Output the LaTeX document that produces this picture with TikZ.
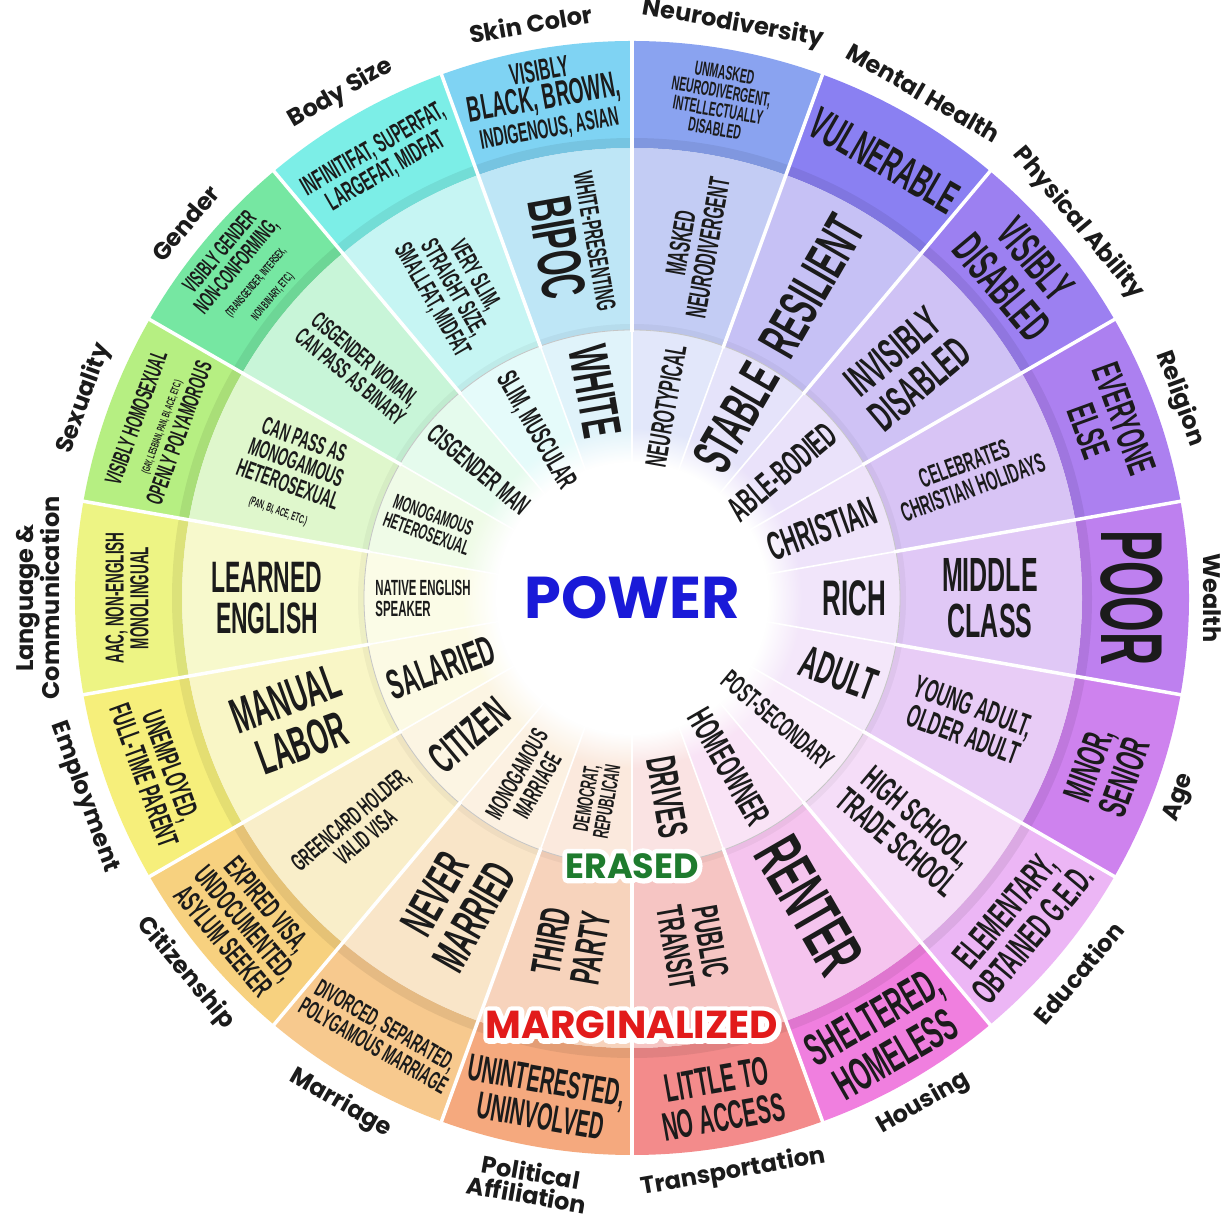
\documentclass[tikz,border=0pt]{standalone}
\usepackage{fontspec}
\newfontfamily\cf{Liberation Sans}[FakeStretch=0.52]
\newfontfamily\pf{Poppins}
\usetikzlibrary{fadings}
\newcommand\F[1]{\fontsize{#1}{\fpeval{0.95*#1}}\selectfont}
\newcommand\C[1]{\cf\bfseries\F{#1}}
% white outline under a coloured word (stroke drawn first, fill on top)
\newcommand\halo[3]{\rlap{\special{pdf:literal direct 2 Tr 1 1 1 RG 1 j #3 w}\textcolor{white}{#2}\special{pdf:literal direct 0 Tr}}\textcolor{#1}{#2}}
\definecolor{txt}{HTML}{1B1B1B}
\definecolor{powerblue}{HTML}{1A1AD8}
\definecolor{erasedgreen}{HTML}{1E7B2E}
\definecolor{margred}{HTML}{E21B1B}
% outer / middle / inner colours
\definecolor{oskin}{HTML}{7FD3F3}\definecolor{mskin}{HTML}{BEE6F6}\definecolor{iskin}{HTML}{E0F3FA}
\definecolor{oneuro}{HTML}{8AA3F0}\definecolor{mneuro}{HTML}{C3CCF4}\definecolor{ineuro}{HTML}{E2E7FA}
\definecolor{omh}{HTML}{8A80F2}\definecolor{mmh}{HTML}{C6C1F5}\definecolor{imh}{HTML}{E5E3FA}
\definecolor{opa}{HTML}{9C80F1}\definecolor{mpa}{HTML}{CFC2F5}\definecolor{ipa}{HTML}{EAE2FA}
\definecolor{orel}{HTML}{AC80F0}\definecolor{mrel}{HTML}{D8C4F5}\definecolor{irel}{HTML}{EEE3FA}
\definecolor{owealth}{HTML}{BE80EF}\definecolor{mwealth}{HTML}{E0C8F6}\definecolor{iwealth}{HTML}{F1E5FA}
\definecolor{oage}{HTML}{CE82EE}\definecolor{mage}{HTML}{E8CCF6}\definecolor{iage}{HTML}{F4E7FA}
\definecolor{oedu}{HTML}{ECB6F5}\definecolor{medu}{HTML}{F5DDF8}\definecolor{iedu}{HTML}{F9ECFA}
\definecolor{ohous}{HTML}{F07FDF}\definecolor{mhous}{HTML}{F5C4EE}\definecolor{ihous}{HTML}{F9E3F6}
\definecolor{otrans}{HTML}{F38B8B}\definecolor{mtrans}{HTML}{F6C5C3}\definecolor{itrans}{HTML}{FAE3E3}
\definecolor{opol}{HTML}{F5A97E}\definecolor{mpol}{HTML}{F7D3BC}\definecolor{ipol}{HTML}{FBE9DD}
\definecolor{omar}{HTML}{F7C98E}\definecolor{mmar}{HTML}{F9E5C8}\definecolor{imar}{HTML}{FCF1E2}
\definecolor{ocit}{HTML}{F7D17F}\definecolor{mcit}{HTML}{F9EEC9}\definecolor{icit}{HTML}{FCF5E3}
\definecolor{oemp}{HTML}{F6EF7B}\definecolor{memp}{HTML}{F9F6C6}\definecolor{iemp}{HTML}{FCFAE4}
\definecolor{olang}{HTML}{EDF484}\definecolor{mlang}{HTML}{F7F9CC}\definecolor{ilang}{HTML}{FBFCE7}
\definecolor{osex}{HTML}{B6EF82}\definecolor{msex}{HTML}{DFF7CC}\definecolor{isex}{HTML}{EFFBE7}
\definecolor{ogen}{HTML}{76E7A2}\definecolor{mgen}{HTML}{C8F5D8}\definecolor{igen}{HTML}{E5FBED}
\definecolor{obody}{HTML}{7CEEE7}\definecolor{mbody}{HTML}{C6F5F3}\definecolor{ibody}{HTML}{E5FBFA}
\tikzset{
  tx/.style={text=txt, inner sep=0pt, align=center},
  lb/.style={text=txt, inner sep=0pt, align=center, font=\pf\bfseries\F{24}},
  pw/.style={inner sep=0pt, font=\pf\bfseries\F{59}},
  ers/.style={inner sep=0pt, font=\pf\bfseries\F{35}},
  mrg/.style={inner sep=0pt, font=\pf\bfseries\F{39}},
}
\begin{document}
\begin{tikzpicture}[x=1pt,y=1pt]
\useasboundingbox (0,0) rectangle (1223,1218);
\fill[white] (0,0) rectangle (1223,1218);
\begin{scope}[shift={(632,620)}]
% wedges
\foreach \t/\c in {100/skin,80/neuro,60/mh,40/pa,20/rel,0/wealth,-20/age,-40/edu,-60/hous,-80/trans,-100/pol,-120/mar,-140/cit,-160/emp,180/lang,160/sex,140/gen,120/body}{
  \fill[fill=o\c] (\t-10:450pt) arc[start angle=\t-10,end angle=\t+10,radius=450pt] -- (\t+10:557pt) arc[start angle=\t+10,end angle=\t-10,radius=557pt] -- cycle;
  \fill[fill=m\c] (\t-10:268pt) arc[start angle=\t-10,end angle=\t+10,radius=268pt] -- (\t+10:450pt) arc[start angle=\t+10,end angle=\t-10,radius=450pt] -- cycle;
  \fill[fill=i\c] (0,0) -- (\t-10:268pt) arc[start angle=\t-10,end angle=\t+10,radius=268pt] -- cycle;
}
% shading bands
\draw[black, opacity=0.07, line width=10pt] (0,0) circle (455pt);
\draw[black, opacity=0.04, line width=6pt] (0,0) circle (271pt);
\draw[gray!45, line width=0.8pt] (0,0) circle (268pt);
\fill[white, path fading=circle with fuzzy edge 20 percent] (0,0) circle (170pt);
% separators
\foreach \a in {10,30,...,350}{
  \draw[white, line width=3.5pt] (\a:266pt) -- (\a:560pt);
  \draw[white, line width=1.6pt] (0,0) -- (\a:268pt);
}
% outer ring
\node[tx,font=\C{30},rotate=10] (o1) at (100:505pt) {VISIBLY\\{\F{36}BLACK, BROWN,}\\{\F{27}INDIGENOUS, ASIAN}};
\node[tx,font=\C{20},rotate=-10] (o2) at (80:505pt) {UNMASKED\\NEURODIVERGENT,\\INTELLECTUALLY\\DISABLED};
\node[tx,font=\C{46},rotate=-30] (o3) at (60:505pt) {VULNERABLE};
\node[tx,font=\C{46},rotate=-50] (o4) at (40:505pt) {VISIBLY\\DISABLED};
\node[tx,font=\C{40},rotate=-70] (o5) at (20:505pt) {EVERYONE\\ELSE};
\node[tx,font=\C{88},rotate=-90] (o6) at (0:500pt) {POOR};
\node[tx,font=\C{40},rotate=70] (o7) at (-20:505pt) {MINOR,\\SENIOR};
\node[tx,font=\C{38},rotate=50] (o8) at (-40:505pt) {ELEMENTARY,\\OBTAINED G.E.D.};
\node[tx,font=\C{46},rotate=30] (o9) at (-60:505pt) {SHELTERED,\\HOMELESS};
\node[tx,font=\C{40},rotate=10] (o10) at (-80:508pt) {LITTLE TO\\NO ACCESS};
\node[tx,font=\C{38},rotate=-10] (o11) at (-100:508pt) {UNINTERESTED,\\UNINVOLVED};
\node[tx,font=\C{25},rotate=-30] (o12) at (-120:505pt) {DIVORCED, SEPARATED,\\POLYGAMOUS MARRIAGE};
\node[tx,font=\C{30},rotate=-50] (o13) at (-140:505pt) {EXPIRED VISA,\\UNDOCUMENTED,\\ASYLUM SEEKER};
\node[tx,font=\C{30},rotate=-70] (o14) at (-160:505pt) {UNEMPLOYED,\\FULL-TIME PARENT};
\node[tx,font=\C{26},rotate=90] (o15) at (180:505pt) {AAC, NON-ENGLISH\\MONOLINGUAL};
\node[tx,font=\C{24},rotate=70] (o16) at (160:505pt) {VISIBLY HOMOSEXUAL\\{\F{11}(GAY, LESBIAN, PAN, BI, ACE, ETC.)}\\OPENLY POLYAMOROUS};
\node[tx,font=\C{23},rotate=50] (o17) at (140:505pt) {VISIBLY GENDER\\NON-CONFORMING,\\{\F{12}(TRANSGENDER, INTERSEX,}\\{\F{12}NON BINARY, ETC.)}};
\node[tx,font=\C{27},rotate=30] (o18) at (120:505pt) {INFINITIFAT, SUPERFAT,\\LARGEFAT, MIDFAT};
% middle ring
\node[tx,font=\C{27},rotate=-80] (m1) at (100:358pt) {WHITE-PRESENTING\\[6pt]{\F{62}BIPOC}};
\node[tx,font=\C{29},rotate=80] (m2) at (80:358pt) {MASKED\\NEURODIVERGENT};
\node[tx,font=\C{56},rotate=60] (m3) at (60:360pt) {RESILIENT};
\node[tx,font=\C{44},rotate=40] (m4) at (40:358pt) {INVISIBLY\\DISABLED};
\node[tx,font=\C{27},rotate=20] (m5) at (20:358pt) {CELEBRATES\\CHRISTIAN HOLIDAYS};
\node[tx,font=\C{48}] (m6) at (0:358pt) {MIDDLE\\CLASS};
\node[tx,font=\C{32},rotate=-20] (m7) at (-20:358pt) {YOUNG ADULT,\\OLDER ADULT};
\node[tx,font=\C{35},rotate=-40] (m8) at (-40:360pt) {HIGH SCHOOL,\\TRADE SCHOOL};
\node[tx,font=\C{68},rotate=-60] (m9) at (-60:355pt) {RENTER};
\node[tx,font=\C{37},rotate=-80] (m10) at (-80:352pt) {PUBLIC\\TRANSIT};
\node[tx,font=\C{42},rotate=80] (m11) at (-100:352pt) {THIRD\\PARTY};
\node[tx,font=\C{48},rotate=60] (m12) at (-120:355pt) {NEVER\\MARRIED};
\node[tx,font=\C{25},rotate=40] (m13) at (-140:358pt) {GREENCARD HOLDER,\\VALID VISA};
\node[tx,font=\C{50},rotate=20] (m14) at (-160:360pt) {MANUAL\\LABOR};
\node[tx,font=\C{44}] (m15) at (180:365pt) {LEARNED\\ENGLISH};
\node[tx,font=\C{25},rotate=-20] (m16) at (160:362pt) {CAN PASS AS\\MONOGAMOUS\\HETEROSEXUAL\\{\F{12}(PAN, BI, ACE, ETC.)}};
\node[tx,font=\C{24},rotate=-40] (m17) at (140:358pt) {CISGENDER WOMAN,\\CAN PASS AS BINARY};
\node[tx,font=\C{26},rotate=-60] (m18) at (120:358pt) {VERY SLIM,\\STRAIGHT SIZE,\\SMALLFAT, MIDFAT};
% inner ring
\node[tx,font=\C{55},rotate=-80] (n1) at (100:210pt) {WHITE};
\node[tx,font=\C{30},rotate=80] (n2) at (80:195pt) {NEUROTYPICAL};
\node[tx,font=\C{56},rotate=60] (n3) at (60:208pt) {STABLE};
\node[tx,font=\C{36},rotate=40] (n4) at (40:196pt) {ABLE-BODIED};
\node[tx,font=\C{40},rotate=20] (n5) at (20:202pt) {CHRISTIAN};
\node[tx,font=\C{50}] (n6) at (0:222pt) {RICH};
\node[tx,font=\C{46},rotate=-20] (n7) at (-20:220pt) {ADULT};
\node[tx,font=\C{28},rotate=-40] (n8) at (-40:190pt) {POST-SECONDARY};
\node[tx,font=\C{36},rotate=-60] (n9) at (-60:195pt) {HOMEOWNER};
\node[tx,font=\C{42},rotate=-80] (n10) at (-80:202pt) {DRIVES};
\node[tx,font=\C{22},rotate=80] (n11) at (-100:205pt) {DEMOCRAT,\\REPUBLICAN};
\node[tx,font=\C{25},rotate=60] (n12) at (-120:210pt) {MONOGAMOUS\\MARRIAGE};
\node[tx,font=\C{44},rotate=40] (n13) at (-140:213pt) {CITIZEN};
\node[tx,font=\C{42},rotate=20] (n14) at (-160:203pt) {SALARIED};
\node[tx,font=\C{22},align=left] (n15) at (180:209pt) {NATIVE ENGLISH\\SPEAKER};
\node[tx,font=\C{21},rotate=-20] (n16) at (160:215pt) {MONOGAMOUS\\HETEROSEXUAL};
\node[tx,font=\C{28},rotate=-40] (n17) at (140:200pt) {CISGENDER MAN};
\node[tx,font=\C{29},rotate=-60] (n18) at (120:193pt) {SLIM, MUSCULAR};
% category labels
\node[lb,rotate=10] (l1) at (100:583pt) {Skin Color};
\node[lb,rotate=-10] (l2) at (80:583pt) {Neurodiversity};
\node[lb,rotate=-30] (l3) at (60:583pt) {Mental Health};
\node[lb,rotate=-50] (l4) at (40:583pt) {Physical Ability};
\node[lb,rotate=-70] (l5) at (20:583pt) {Religion};
\node[lb,rotate=-90] (l6) at (0:580pt) {Wealth};
\node[lb,rotate=70] (l7) at (-20:583pt) {Age};
\node[lb,rotate=50] (l8) at (-40:583pt) {Education};
\node[lb,rotate=30] (l9) at (-60:583pt) {Housing};
\node[lb,rotate=10] (l10) at (-80:583pt) {Transportation};
\node[lb,rotate=-10] (l11) at (-100:594pt) {Political\\Affiliation};
\node[lb,rotate=-30] (l12) at (-120:583pt) {Marriage};
\node[lb,rotate=-50] (l13) at (-140:583pt) {Citizenship};
\node[lb,rotate=-70] (l14) at (-160:583pt) {Employment};
\node[lb,rotate=90] (l15) at (180:594pt) {Language \&\\Communication};
\node[lb,rotate=70] (l16) at (160:583pt) {Sexuality};
\node[lb,rotate=50] (l17) at (140:583pt) {Gender};
\node[lb,rotate=30] (l18) at (120:583pt) {Body Size};
% special words
\node[pw] (power) at (0,0) {\halo{powerblue}{POWER}{6}};
\node[ers] (erased) at (0,-268) {\halo{erasedgreen}{ERASED}{10}};
\node[mrg] (marg) at (0,-427) {\halo{margred}{MARGINALIZED}{10}};
\end{scope}
\end{tikzpicture}
\end{document}
